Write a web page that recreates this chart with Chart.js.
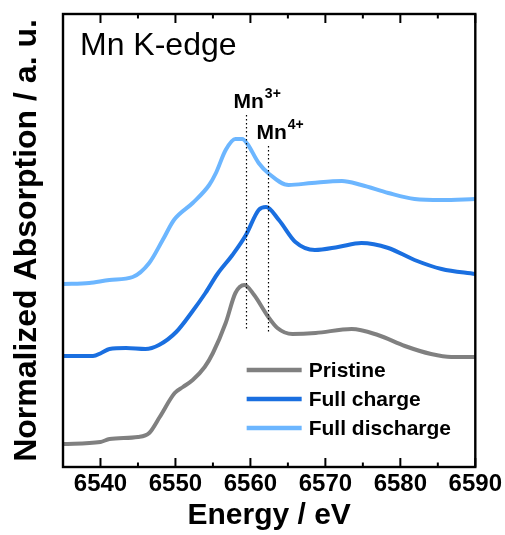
<!DOCTYPE html>
<html><head><meta charset="utf-8">
<script src="https://cdn.jsdelivr.net/npm/chart.js@4.4.1/dist/chart.umd.min.js"></script>
<style>html,body{margin:0;padding:0;background:#fff}canvas{display:block}</style>
</head><body>
<canvas id="c" width="505" height="535"></canvas>
<script>
// ---- data ----
const seriesNames = ['Pristine', 'Full charge', 'Full discharge'];
const seriesColors = ['#808080', '#1a6fe0', '#6cb6ff'];

const energyPristine = [6535, 6540, 6541.2, 6545, 6546.5, 6547.9, 6549.9, 6551, 6552.3, 6553.9, 6555, 6556.7, 6558, 6559.2, 6560.5, 6562.3, 6563.6, 6565.6, 6568.7, 6573.5, 6577, 6580.6, 6584.1, 6586.8, 6590];
const absPristine    = [0.23, 0.25, 0.28, 0.30, 0.34, 0.50, 0.74, 0.80, 0.87, 1.00, 1.14, 1.44, 1.74, 1.82, 1.72, 1.51, 1.39, 1.33, 1.34, 1.38, 1.32, 1.21, 1.13, 1.10, 1.10];

const energyCharge = [6535, 6539, 6540.1, 6541.2, 6543.4, 6546, 6547.8, 6550.1, 6552.3, 6554, 6555.6, 6557.6, 6559.4, 6561.1, 6562.1, 6563.8, 6566, 6568.6, 6571.7, 6574.8, 6578.4, 6581.9, 6585.5, 6590];
const absCharge    = [1.11, 1.11, 1.14, 1.18, 1.19, 1.18, 1.22, 1.35, 1.56, 1.74, 1.93, 2.12, 2.32, 2.57, 2.60, 2.47, 2.25, 2.17, 2.20, 2.24, 2.19, 2.07, 1.98, 1.93];

const energyDischarge = [6535, 6538.5, 6541.2, 6544.3, 6546.5, 6548.3, 6549.8, 6552.3, 6554.5, 6555.4, 6556.7, 6558, 6558.9, 6559.6, 6561.1, 6562.5, 6565.1, 6568.2, 6572.2, 6574.8, 6578.4, 6581.9, 6585.5, 6590];
const absDischarge    = [1.83, 1.84, 1.87, 1.90, 2.04, 2.27, 2.47, 2.64, 2.82, 2.94, 3.17, 3.28, 3.28, 3.23, 3.04, 2.93, 2.82, 2.84, 2.86, 2.82, 2.74, 2.68, 2.67, 2.68];

const xTickValues = [6540, 6550, 6560, 6570, 6580, 6590];
const xTickLabels = ['6540', '6550', '6560', '6570', '6580', '6590'];
const xMinorTicks = [6545, 6555, 6565, 6575, 6585];

const edgeLabels   = ['3+', '4+'];
const edgeEnergies = [6559.35, 6562.4];
const edgeTop      = [3.52, 3.21];
const edgeBottom   = [1.37, 1.35];

const panelTitle = 'Mn K-edge';

// ---- chart ----
const FAM = "'Liberation Sans', Arial, Helvetica, sans-serif";

function pts(xs, ys) { return xs.map((x, i) => ({x: x, y: ys[i]})); }

const datasets = [
  {label: seriesNames[0], data: pts(energyPristine, absPristine), borderColor: seriesColors[0]},
  {label: seriesNames[1], data: pts(energyCharge, absCharge), borderColor: seriesColors[1]},
  {label: seriesNames[2], data: pts(energyDischarge, absDischarge), borderColor: seriesColors[2]}
];

const decor = {
  id: 'decor',
  afterDatasetsDraw(chart) {
    const ctx = chart.ctx, xs = chart.scales.x, ys = chart.scales.y;
    const a = chart.chartArea;
    ctx.save();
    // dotted edge lines
    ctx.strokeStyle = '#000'; ctx.lineWidth = 1.2; ctx.setLineDash([1.5, 2.5]);
    edgeEnergies.forEach((e, i) => {
      const px = Math.round(xs.getPixelForValue(e)) + 0.5;
      ctx.beginPath();
      ctx.moveTo(px, ys.getPixelForValue(edgeTop[i]));
      ctx.lineTo(px, ys.getPixelForValue(edgeBottom[i]));
      ctx.stroke();
    });
    ctx.setLineDash([]);
    // edge labels
    ctx.fillStyle = '#000'; ctx.textBaseline = 'alphabetic'; ctx.textAlign = 'left';
    edgeEnergies.forEach((e, i) => {
      const px = xs.getPixelForValue(e);
      const py = ys.getPixelForValue(edgeTop[i]);
      const lx = px - 12, ly = py - 7;
      ctx.font = 'bold 21px ' + FAM;
      ctx.fillText('Mn', lx, ly);
      const w = ctx.measureText('Mn').width;
      ctx.font = 'bold 14px ' + FAM;
      ctx.fillText(edgeLabels[i], lx + w + 1, ly - 10);
    });
    // panel title
    ctx.font = '32px ' + FAM;
    ctx.fillText(panelTitle, a.left + 17, a.top + 41);
    // legend
    const lgX = xs.getPixelForValue(6559.5), lgY0 = ys.getPixelForValue(0.97), lgDy = 29;
    chart.data.datasets.forEach((d, i) => {
      const y = lgY0 + i * lgDy;
      ctx.strokeStyle = d.borderColor; ctx.lineWidth = 4.5;
      ctx.beginPath(); ctx.moveTo(lgX, y); ctx.lineTo(lgX + 55, y); ctx.stroke();
      ctx.fillStyle = '#000'; ctx.font = 'bold 21px ' + FAM; ctx.textBaseline = 'middle';
      ctx.fillText(d.label, lgX + 62, y + 1);
    });
    // frame
    ctx.strokeStyle = '#000'; ctx.lineWidth = 2.4;
    ctx.strokeRect(a.left, a.top, a.right - a.left, a.bottom - a.top);
    // inner ticks, bottom and top
    ctx.lineWidth = 2;
    const drawTick = (v, len) => {
      const px = xs.getPixelForValue(v);
      ctx.beginPath(); ctx.moveTo(px, a.bottom); ctx.lineTo(px, a.bottom - len); ctx.stroke();
      ctx.beginPath(); ctx.moveTo(px, a.top); ctx.lineTo(px, a.top + len); ctx.stroke();
    };
    xTickValues.forEach(v => drawTick(v, 9));
    xMinorTicks.forEach(v => drawTick(v, 4.5));
    ctx.restore();
  }
};

new Chart(document.getElementById('c'), {
  type: 'line',
  data: {datasets: datasets},
  plugins: [decor],
  options: {
    responsive: false, animation: false, devicePixelRatio: 1,
    layout: {padding: {left: 0, top: 14, right: 27.5, bottom: 0}},
    plugins: {legend: {display: false}, tooltip: {enabled: false}},
    elements: {point: {radius: 0}, line: {borderWidth: 4, cubicInterpolationMode: 'monotone', fill: false}},
    scales: {
      x: {
        type: 'linear', min: 6535, max: 6590,
        grid: {display: false, drawTicks: false}, border: {display: false},
        afterBuildTicks: s => { s.ticks = xTickValues.map(v => ({value: v})); },
        afterFit: s => { s.height = 68; },
        ticks: {color: '#000', padding: 3, maxRotation: 0, autoSkip: false,
          font: {family: FAM, size: 24, weight: 'bold'},
          callback: (v, i) => xTickLabels[i]},
        title: {display: true, text: 'Energy / eV', color: '#000',
          font: {family: FAM, size: 30, weight: 'bold'}, padding: {top: 0, bottom: 1}}
      },
      y: {
        min: 0, max: 4.53,
        ticks: {display: false},
        grid: {display: false, drawTicks: false}, border: {display: false},
        afterFit: s => { s.width = 63; },
        title: {display: true, text: 'Normalized Absorption / a. u.', color: '#000',
          font: {family: FAM, size: 32, weight: 'bold'}, padding: {top: 8, bottom: 0}}
      }
    }
  }
});
</script>
</body></html>
